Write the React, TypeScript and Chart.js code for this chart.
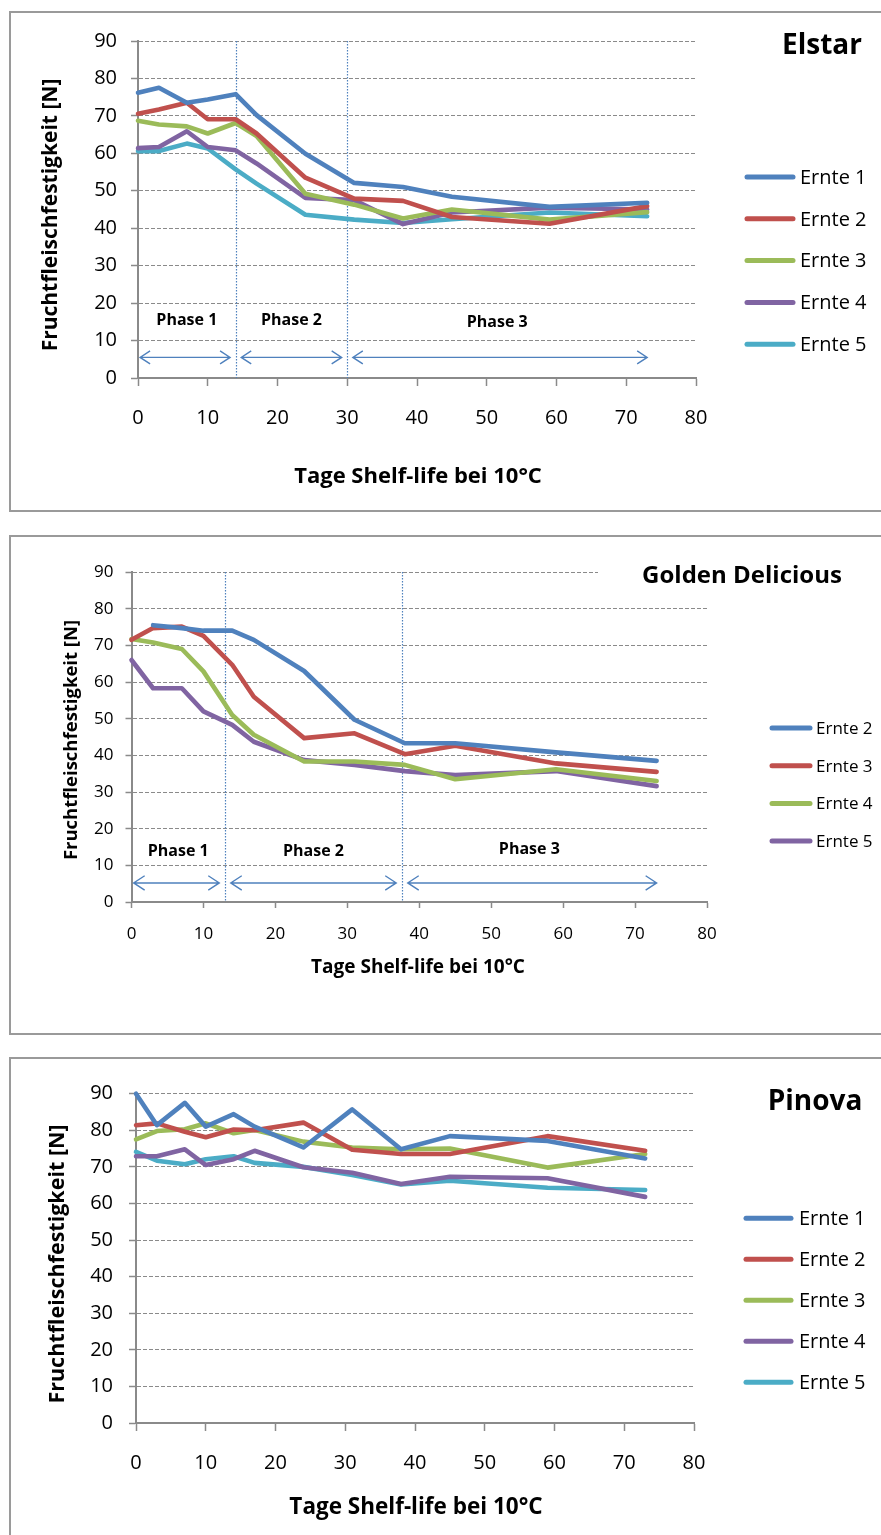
import React, { useEffect, useRef } from "react";
import { Chart, registerables } from "chart.js";
Chart.register(...registerables);

const FONT = "'Open Sans', 'Noto Sans', 'DejaVu Sans', sans-serif";
const COLORS = ["#4F81BD", "#C0504D", "#9BBB59", "#8064A2", "#4BACC6"];
const GRID = "#8a8a8a";
const PHASE_BLUE = "#4F81BD";

// ---- shared ticks ----
const X_TICKS = [0, 10, 20, 30, 40, 50, 60, 70, 80];
const Y_TICKS = [0, 10, 20, 30, 40, 50, 60, 70, 80, 90];
const PHASE_NAMES = ["Phase 1", "Phase 2", "Phase 3"];
const X_TITLE = "Tage Shelf-life bei 10°C";
const Y_TITLE = "Fruchtfleischfestigkeit [N]";

// ---- Elstar ----
const elstarDays = [0, 3, 7, 10, 14, 17, 24, 31, 38, 45, 59, 73];
const elstarErnte1 = [76.2, 77.5, 73.5, 74.4, 75.8, 70.2, 59.9, 52.1, 51.0, 48.4, 45.7, 46.8];
const elstarErnte2 = [70.6, 71.7, 73.5, 69.1, 69.1, 65.3, 53.5, 47.9, 47.3, 43.0, 41.2, 45.9];
const elstarErnte3 = [68.7, 67.7, 67.2, 65.3, 68.1, 64.6, 49.2, 46.3, 42.6, 45.0, 42.3, 44.3];
const elstarErnte4 = [61.4, 61.7, 65.9, 61.7, 60.8, 57.3, 48.1, 47.5, 41.1, 44.2, 45.5, 45.0];
const elstarErnte5 = [60.6, 60.6, 62.6, 61.3, 55.7, 51.9, 43.6, 42.3, 41.4, 42.4, 44.2, 43.2];
const elstarLabels = ["Ernte 1", "Ernte 2", "Ernte 3", "Ernte 4", "Ernte 5"];
const elstarPhaseBounds = [0, 14, 30, 73];

// ---- Golden Delicious ----
const goldenDays = [0, 3, 7, 10, 14, 17, 24, 31, 38, 45, 59, 73];
const goldenErnte2 = [null, 75.5, 74.7, 74.0, 74.0, 71.5, 63.0, 49.7, 43.3, 43.3, 40.8, 38.5];
const goldenErnte3 = [71.5, 74.7, 75.1, 72.6, 64.7, 56.0, 44.7, 46.0, 40.3, 42.6, 37.8, 35.5];
const goldenErnte4 = [71.7, 70.8, 69.0, 62.9, 51.0, 45.6, 38.3, 38.3, 37.4, 33.5, 36.2, 33.0];
const goldenErnte5 = [66.0, 58.3, 58.3, 52.0, 48.3, 43.7, 38.7, 37.4, 35.7, 34.6, 35.7, 31.6];
const goldenLabels = ["Ernte 2", "Ernte 3", "Ernte 4", "Ernte 5"];
const goldenPhaseBounds = [0, 13, 37.6, 73];

// ---- Pinova ----
const pinovaDays = [0, 3, 7, 10, 14, 17, 24, 31, 38, 45, 59, 73];
const pinovaErnte1 = [90.0, 81.4, 87.5, 81.0, 84.4, 81.0, 75.3, 85.7, 74.8, 78.4, 77.1, 72.3];
const pinovaErnte2 = [81.4, 81.9, 79.6, 78.1, 80.2, 80.0, 82.1, 74.7, 73.5, 73.5, 78.4, 74.4];
const pinovaErnte3 = [77.5, 79.8, 80.3, 81.9, 79.2, 80.1, 76.9, 75.3, 74.8, 75.0, 69.8, 73.5];
const pinovaErnte4 = [72.9, 72.9, 74.8, 70.5, 72.1, 74.4, 69.9, 68.4, 65.3, 67.3, 66.9, 61.8];
const pinovaErnte5 = [74.1, 71.7, 70.7, 72.1, 72.9, 71.1, 70.0, 67.8, 65.2, 66.2, 64.3, 63.7];
const pinovaLabels = ["Ernte 1", "Ernte 2", "Ernte 3", "Ernte 4", "Ernte 5"];

type PanelCfg = {
  key: string;
  top: number;
  height: number;
  days: number[];
  series: (number | null)[][];
  labels: string[];
  padding: { left: number; right: number; top: number; bottom: number };
  tickFont: number;
  yTickPad: number;
  xTickPad: number;
  yTickLen: number;
  xTickLen: number;
  lineWidth: number;
  title: { text: string; x: number; y: number; size: number; bg?: number[] };
  legend: { x1: number; x2: number; tx: number; y0: number; dy: number; size: number };
  axisTitles: { xsize: number; ysize: number; xx: number; xy: number; yx: number; yy: number };
  phases?: { bounds: number[]; labelVals: number[]; arrowVal: number; size: number; head: number };
};

const panels: PanelCfg[] = [
  {
    key: "elstar",
    top: 0,
    height: 512,
    days: elstarDays,
    series: [elstarErnte1, elstarErnte2, elstarErnte3, elstarErnte4, elstarErnte5],
    labels: elstarLabels,
    padding: { left: 78, right: 185, top: 41, bottom: 74 },
    tickFont: 20,
    yTickPad: 14,
    xTickPad: 20,
    yTickLen: 7,
    xTickLen: 8,
    lineWidth: 4.6,
    title: { text: "Elstar", x: 822, y: 46, size: 28 },
    legend: { x1: 747, x2: 793, tx: 800, y0: 177, dy: 41.8, size: 20 },
    axisTitles: { xsize: 22, ysize: 21, xx: 418, xy: 477, yx: 51, yy: 215 },
    phases: { bounds: elstarPhaseBounds, labelVals: [15.5, 15.5, 14.9], arrowVal: 5.5, size: 16, head: 10 },
  },
  {
    key: "golden",
    top: 512,
    height: 523,
    days: goldenDays,
    series: [goldenErnte2, goldenErnte3, goldenErnte4, goldenErnte5],
    labels: goldenLabels,
    padding: { left: 71.5, right: 174, top: 60, bottom: 73 },
    tickFont: 17,
    yTickPad: 12,
    xTickPad: 16,
    yTickLen: 6,
    xTickLen: 6,
    lineWidth: 4.6,
    title: { text: "Golden Delicious", x: 742, y: 64, size: 24, bg: [598, 48, 283, 34] },
    legend: { x1: 772, x2: 810, tx: 816, y0: 216, dy: 37.7, size: 17 },
    axisTitles: { xsize: 19, ysize: 18.5, xx: 418, xy: 456, yx: 72, yy: 228 },
    phases: { bounds: goldenPhaseBounds, labelVals: [13.9, 13.9, 14.4], arrowVal: 5.2, size: 16, head: 11 },
  },
  {
    key: "pinova",
    top: 1035,
    height: 500,
    days: pinovaDays,
    series: [pinovaErnte1, pinovaErnte2, pinovaErnte3, pinovaErnte4, pinovaErnte5],
    labels: pinovaLabels,
    padding: { left: 76, right: 187, top: 58.7, bottom: 52 },
    tickFont: 20,
    yTickPad: 16,
    xTickPad: 20,
    yTickLen: 7,
    xTickLen: 8,
    lineWidth: 4.6,
    title: { text: "Pinova", x: 815, y: 67, size: 28 },
    legend: { x1: 746, x2: 791, tx: 799, y0: 183.3, dy: 41, size: 20 },
    axisTitles: { xsize: 22.5, ysize: 21.5, xx: 416, xy: 473, yx: 58, yy: 229 },
  },
];

function makeDecor(cfg: PanelCfg) {
  return {
    id: "decor_" + cfg.key,
    beforeDatasetsDraw(chart: any) {
      const p = cfg.phases;
      if (!p) return;
      const { ctx, chartArea } = chart;
      const x = chart.scales.x;
      const y = chart.scales.y;
      ctx.save();
      ctx.strokeStyle = PHASE_BLUE;
      ctx.lineWidth = 1.2;
      ctx.setLineDash([1.5, 1.5]);
      for (let i = 1; i < p.bounds.length - 1; i++) {
        const px = Math.round(x.getPixelForValue(p.bounds[i])) + 0.5;
        ctx.beginPath();
        ctx.moveTo(px, chartArea.top);
        ctx.lineTo(px, chartArea.bottom);
        ctx.stroke();
      }
      ctx.setLineDash([]);
      ctx.lineWidth = 1.4;
      const ay = y.getPixelForValue(p.arrowVal);
      const n = p.bounds.length - 1;
      for (let i = 0; i < n; i++) {
        const s = x.getPixelForValue(p.bounds[i] + (i === 0 ? 0.3 : 0.8));
        const e = x.getPixelForValue(p.bounds[i + 1] - (i === n - 1 ? 0 : 0.8));
        const h = p.head;
        ctx.beginPath();
        ctx.moveTo(s, ay);
        ctx.lineTo(e, ay);
        ctx.moveTo(s + h, ay - h * 0.65);
        ctx.lineTo(s, ay);
        ctx.lineTo(s + h, ay + h * 0.65);
        ctx.moveTo(e - h, ay - h * 0.65);
        ctx.lineTo(e, ay);
        ctx.lineTo(e - h, ay + h * 0.65);
        ctx.stroke();
      }
      ctx.fillStyle = "#000";
      ctx.font = `bold ${p.size}px ${FONT}`;
      ctx.textAlign = "center";
      ctx.textBaseline = "middle";
      for (let i = 0; i < n; i++) {
        const mid = (p.bounds[i] + p.bounds[i + 1]) / 2;
        ctx.fillText(PHASE_NAMES[i], x.getPixelForValue(mid), y.getPixelForValue(p.labelVals[i]));
      }
      ctx.restore();
    },
    afterDraw(chart: any) {
      const { ctx } = chart;
      ctx.save();
      const t = cfg.title;
      if (t.bg) {
        ctx.fillStyle = "#fff";
        ctx.fillRect(t.bg[0], t.bg[1], t.bg[2], t.bg[3]);
      }
      ctx.fillStyle = "#000";
      ctx.font = `bold ${t.size}px ${FONT}`;
      ctx.textAlign = "center";
      ctx.textBaseline = "middle";
      ctx.fillText(t.text, t.x, t.y);
      // legend
      const L = cfg.legend;
      chart.data.datasets.forEach((ds: any, i: number) => {
        const yy = L.y0 + i * L.dy;
        ctx.strokeStyle = ds.borderColor;
        ctx.lineWidth = 5;
        ctx.lineCap = "round";
        ctx.beginPath();
        ctx.moveTo(L.x1, yy);
        ctx.lineTo(L.x2, yy);
        ctx.stroke();
        ctx.fillStyle = "#000";
        ctx.font = `${L.size}px ${FONT}`;
        ctx.textAlign = "left";
        ctx.textBaseline = "middle";
        ctx.fillText(ds.label, L.tx, yy + 1);
      });
      // axis titles
      const a = cfg.axisTitles;
      ctx.fillStyle = "#000";
      ctx.textAlign = "center";
      ctx.textBaseline = "middle";
      ctx.font = `bold ${a.xsize}px ${FONT}`;
      ctx.fillText(X_TITLE, a.xx, a.xy);
      ctx.font = `bold ${a.ysize}px ${FONT}`;
      ctx.translate(a.yx, a.yy);
      ctx.rotate(-Math.PI / 2);
      ctx.fillText(Y_TITLE, 0, 0);
      ctx.restore();
    },
  };
}

function PanelChart({ cfg }: { cfg: PanelCfg }) {
  const ref = useRef<HTMLCanvasElement>(null);
  useEffect(() => {
    const datasets = cfg.series.map((vals, i) => ({
      label: cfg.labels[i],
      data: cfg.days.map((d, j) => ({ x: d, y: vals[j] })),
      borderColor: COLORS[i],
      backgroundColor: COLORS[i],
      borderWidth: cfg.lineWidth,
      pointRadius: 0,
      tension: 0,
      borderJoinStyle: "round" as const,
      borderCapStyle: "round" as const,
      clip: false as const,
    }));
    const chart = new Chart(ref.current!, {
      type: "line",
      data: { datasets },
      plugins: [makeDecor(cfg)],
      options: {
        responsive: false,
        animation: false,
        events: [],
        layout: { padding: cfg.padding },
        plugins: { legend: { display: false }, tooltip: { enabled: false }, title: { display: false } },
        scales: {
          x: {
            type: "linear",
            min: 0,
            max: 80,
            afterBuildTicks: (s: any) => {
              s.ticks = X_TICKS.map((v) => ({ value: v }));
            },
            afterFit: (s: any) => {
              s.height = 60;
            },
            ticks: {
              autoSkip: false,
              maxRotation: 0,
              color: "#000",
              padding: cfg.xTickPad,
              font: { family: FONT, size: cfg.tickFont },
            },
            grid: {
              drawOnChartArea: false,
              drawTicks: true,
              tickLength: cfg.xTickLen,
              color: GRID,
              tickColor: GRID,
              tickWidth: 1.5,
            },
            border: { display: true, color: GRID, width: 2 },
          },
          y: {
            type: "linear",
            min: 0,
            max: 90,
            afterBuildTicks: (s: any) => {
              s.ticks = Y_TICKS.map((v) => ({ value: v }));
            },
            afterFit: (s: any) => {
              s.width = 60;
            },
            ticks: {
              autoSkip: false,
              color: "#000",
              padding: cfg.yTickPad,
              font: { family: FONT, size: cfg.tickFont },
            },
            grid: {
              drawOnChartArea: true,
              drawTicks: true,
              tickLength: cfg.yTickLen,
              color: GRID,
              lineWidth: 1,
              tickColor: GRID,
              tickWidth: 1.5,
            },
            border: { display: true, color: GRID, width: 2, dash: [4, 2] },
          },
        },
      },
    } as any);
    return () => chart.destroy();
  }, []);
  return (
    <canvas
      ref={ref}
      width={881}
      height={cfg.height}
      style={{ position: "absolute", left: 0, top: cfg.top, width: 881, height: cfg.height }}
    />
  );
}

const boxes = [
  { top: 11, height: 501 },
  { top: 535, height: 500 },
  { top: 1057, height: 520 },
];

export default function App() {
  return (
    <div
      style={{
        position: "absolute",
        left: 0,
        top: 0,
        width: 881,
        height: 1535,
        overflow: "hidden",
        background: "#fff",
      }}
    >
      {boxes.map((b, i) => (
        <div
          key={i}
          style={{
            position: "absolute",
            left: 9,
            top: b.top,
            width: 900,
            height: b.height,
            border: "2px solid #9a9a9a",
            boxSizing: "border-box",
          }}
        />
      ))}
      {panels.map((p) => (
        <PanelChart key={p.key} cfg={p} />
      ))}
    </div>
  );
}
